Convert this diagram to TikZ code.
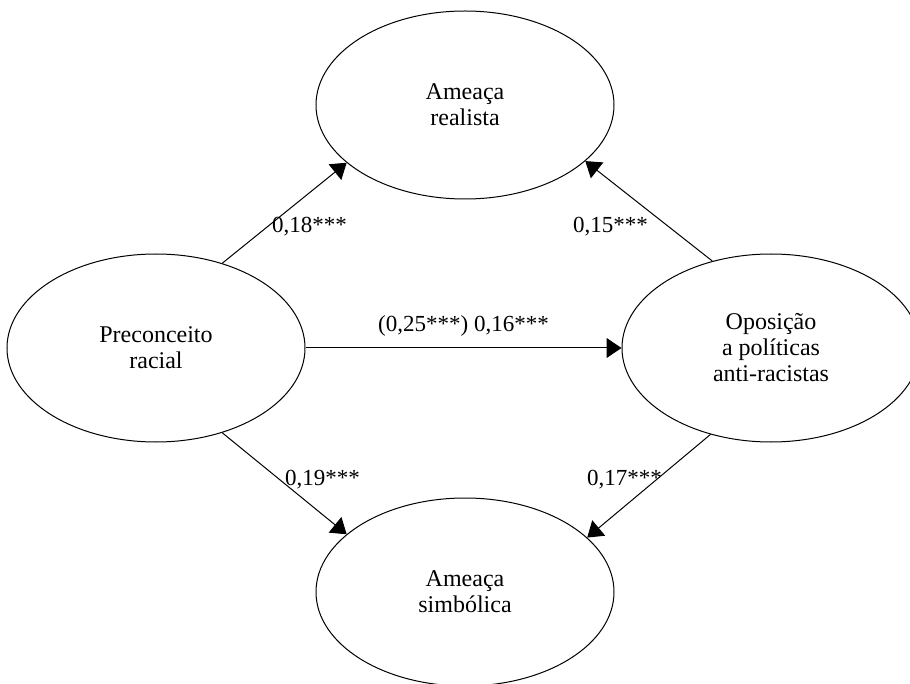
\documentclass[tikz,border=0pt]{standalone}
\usepackage{fontspec}
\setmainfont{Liberation Serif}
\usetikzlibrary{shapes.geometric,arrows.meta}
\tikzset{
  construct/.style={draw, ellipse, line width=1pt, minimum width=298pt, minimum height=188pt, inner sep=0pt, align=center, font=\fontsize{24}{26}\selectfont},
  path/.style={line width=1pt, -{Triangle[length=15pt,width=20pt]}},
  coef/.style={anchor=base west, inner sep=0pt, font=\fontsize{23}{26}\selectfont}
}
\begin{document}
\begin{tikzpicture}[x=1pt,y=-1pt]
\useasboundingbox (0,0) rectangle (910,684);
\node[construct] (L) at (156,348) {Preconceito\\racial};
\node[construct] (T) at (465,105) {Ameaça\\realista};
\node[construct] (B) at (465,592) {Ameaça\\simbólica};
\node[construct] (R) at (771,348) {Oposição\\a políticas\\anti-racistas};
\draw[path] (L.52) -- (T.206);
\draw[path] (R.124.5) -- (T.335.5);
\draw[path] (L.east) -- (R.west);
\draw[path] (L.308) -- (B.154);
\draw[path] (R.235.5) -- (B.24.5);
\node[coef] (c1) at (272,233) {0,18***};
\node[coef] (c2) at (573,233) {0,15***};
\node[coef] (c3) at (378,332) {(0,25***) 0,16***};
\node[coef] (c4) at (285,485) {0,19***};
\node[coef] (c5) at (587,485) {0,17***};
\end{tikzpicture}
\end{document}
